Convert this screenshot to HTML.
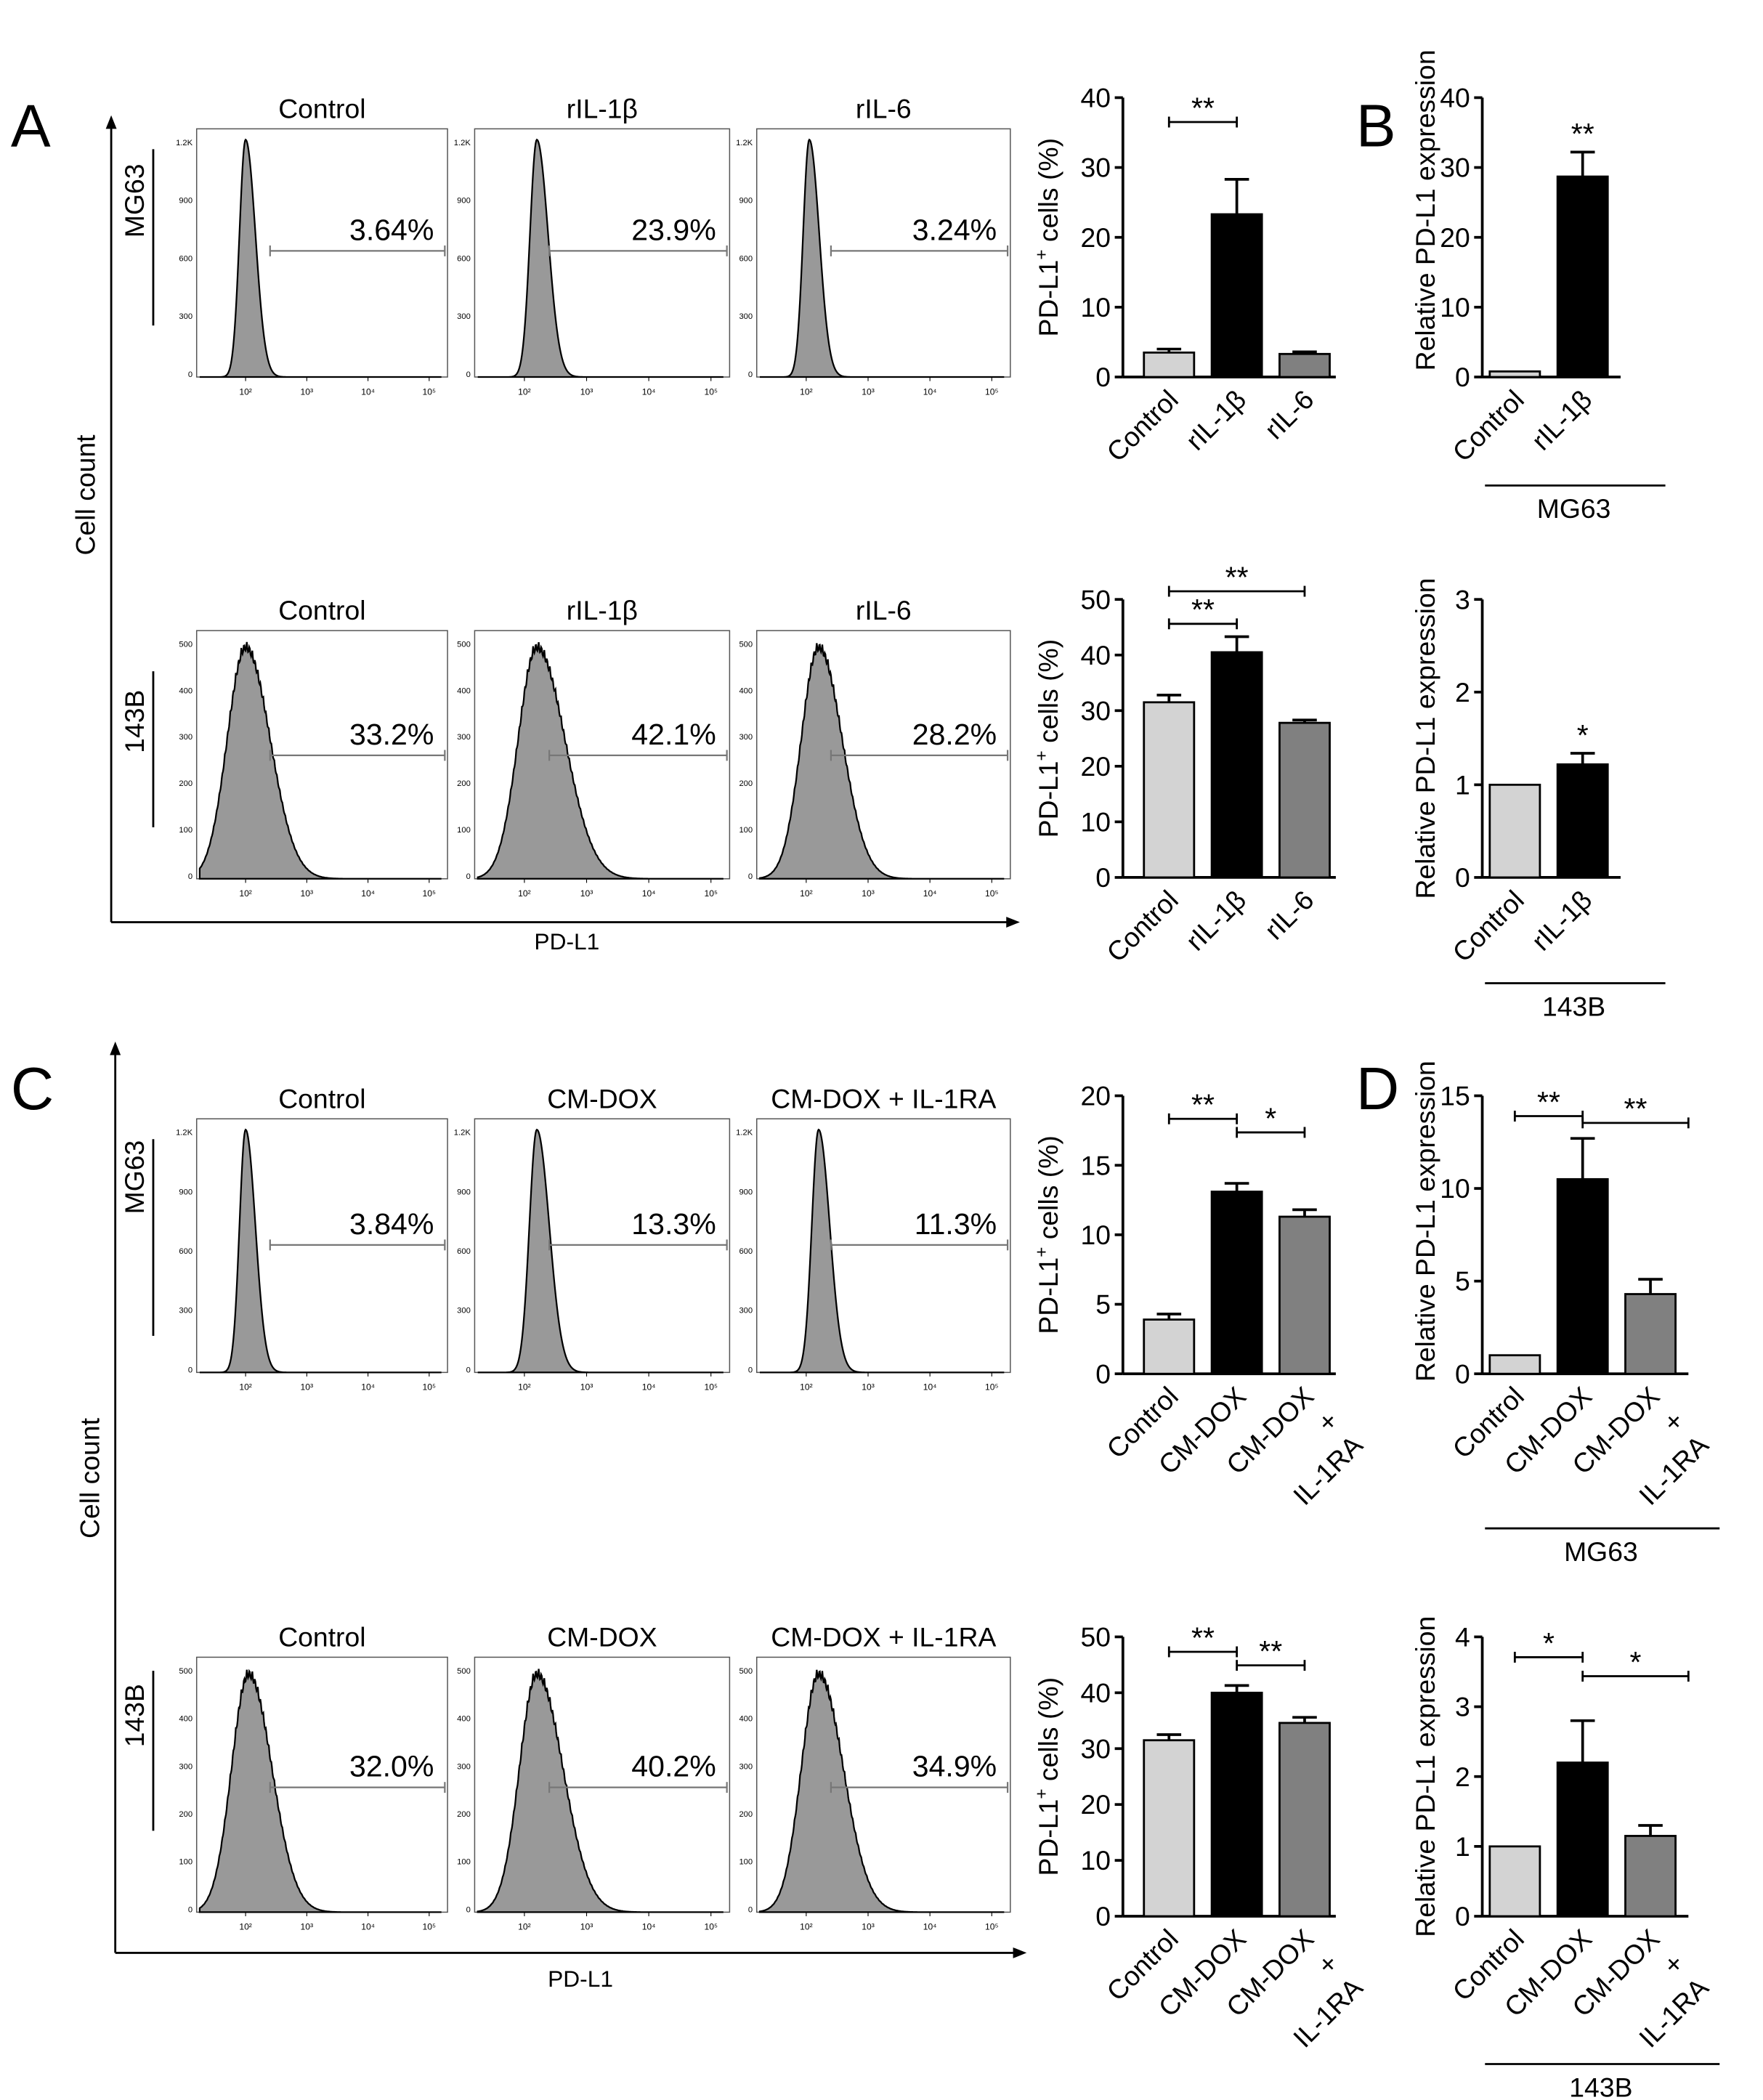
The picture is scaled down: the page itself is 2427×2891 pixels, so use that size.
<!DOCTYPE html>
<html><head><meta charset="utf-8"><style>
html,body{margin:0;padding:0;background:#fff}
svg{display:block;font-family:"Liberation Sans",Arial,sans-serif}
</style></head><body>
<svg id="fig" width="2427" height="2891" viewBox="0 0 1300 1548.5" preserveAspectRatio="none">
<g id="static">
<text x="8" y="108" font-size="44">A</text>
<text x="1000" y="108" font-size="44">B</text>
<text x="8" y="818" font-size="44">C</text>
<text x="1000" y="818" font-size="44">D</text>
</g>
</svg>
<script>
// ---- bar chart data ----
const catsA = ["Control","rIL-1β","rIL-6"];
const catsC = ["Control","CM-DOX","CM-DOX\n+\nIL-1RA"];
const catsB = ["Control","rIL-1β"];
const valsA1 = [3.5, 23.3, 3.3];  const errA1 = [0.5, 5.0, 0.3];
const valsA2 = [31.5, 40.5, 27.8]; const errA2 = [1.3, 2.8, 0.5];
const valsB1 = [0.8, 28.7];        const errB1 = [0, 3.5];
const valsB2 = [1.0, 1.22];        const errB2 = [0, 0.12];
const valsC1 = [3.9, 13.1, 11.3];  const errC1 = [0.4, 0.6, 0.5];
const valsC2 = [31.5, 40.0, 34.6]; const errC2 = [1.0, 1.3, 1.0];
const valsD1 = [1.0, 10.5, 4.3];   const errD1 = [0, 2.2, 0.8];
const valsD2 = [1.0, 2.2, 1.15];   const errD2 = [0, 0.6, 0.15];
const ticksA1 = [0,10,20,30,40], ticksA2=[0,10,20,30,40,50], ticksB1=[0,10,20,30,40], ticksB2=[0,1,2,3];
const ticksC1 = [0,5,10,15,20], ticksC2=[0,10,20,30,40,50], ticksD1=[0,5,10,15], ticksD2=[0,1,2,3,4];
// ---- histogram data ----
const pctRow = [["3.64%","23.9%","3.24%"],["33.2%","42.1%","28.2%"],["3.84%","13.3%","11.3%"],["32.0%","40.2%","34.9%"]];
const peakPos = [[2.0,2.2,2.05],[2.0,2.2,2.2],[2.0,2.2,2.2],[2.05,2.2,2.2]];
const spreadL = [[0.1,0.11,0.1],[0.3,0.3,0.28],[0.1,0.12,0.11],[0.28,0.28,0.28]];
const spreadR = [[0.16,0.18,0.16],[0.4,0.45,0.38],[0.16,0.2,0.18],[0.38,0.42,0.4]];

const NS="http://www.w3.org/2000/svg", svg=document.getElementById('fig');
function el(tag,attrs,parent,text){const e=document.createElementNS(NS,tag);for(const k in attrs)e.setAttribute(k,attrs[k]);if(text!==undefined)e.textContent=text;(parent||svg).appendChild(e);return e;}

function bigAxes(x,yTop,yBot,xEnd,ccY,pdX,pdY){
  const g=el('g',{});
  
  
  el('line',{x1:x,y1:yBot,x2:x,y2:yTop+8,stroke:'#000','stroke-width':1.5},g);
  el('polygon',{points:`${x-4},${yTop+10} ${x+4},${yTop+10} ${x},${yTop}`,fill:'#000'},g);
  el('line',{x1:x,y1:yBot,x2:xEnd-8,y2:yBot,stroke:'#000','stroke-width':1.5},g);
  el('polygon',{points:`${xEnd-10},${yBot-4} ${xEnd-10},${yBot+4} ${xEnd},${yBot}`,fill:'#000'},g);
  const t=el('text',{x:0,y:0,'font-size':20,'text-anchor':'middle',transform:`translate(${x-12},${ccY}) rotate(-90)`},g,'Cell count');
  
  
  const p=el('text',{x:pdX,y:pdY,'font-size':17,'text-anchor':'middle'},g,'PD-L1');
  
  
}
bigAxes(82,85,680,752,365,418,700);
bigAxes(85,768,1440,757,1090,428,1465);

function cellLabel(txt,y,yt,yb){
  el('line',{x1:113,y1:yt,x2:113,y2:yb,stroke:'#000','stroke-width':1.5});
  const t=el('text',{'font-size':20,'text-anchor':'middle',transform:`translate(106,${y}) rotate(-90)`},svg,txt);
  
  
}
cellLabel('MG63',148,110,240); cellLabel('143B',532,495,610);
cellLabel('MG63',868,840,985); cellLabel('143B',1265,1232,1350);

const boxX=[145,350,558], boxW=[185,188,187];
const rowY=[[95,278],[465,648],[825,1012],[1222,1410]];
const titles=[["Control","rIL-1β","rIL-6"],["Control","rIL-1β","rIL-6"],["Control","CM-DOX","CM-DOX + IL-1RA"],["Control","CM-DOX","CM-DOX + IL-1RA"]];
const gateY=[185,557,918,1318];
for(let r=0;r<4;r++){for(let c=0;c<3;c++){
  const x0=boxX[c],w=boxW[c],y0=rowY[r][0],y1=rowY[r][1],h=y1-y0;
  const g=el('g',{});
  
  
  el('rect',{x:x0,y:y0,width:w,height:h,fill:'#fff',stroke:'#555','stroke-width':0.8},g);
  const tt=el('text',{x:x0+w/2,y:y0-8,'font-size':20,'text-anchor':'middle'},g,titles[r][c]);
  
  
  const lx=v=>x0+(v-1.2)/(5.3-1.2)*w;
  for(let d=2;d<=5;d++){const tx=lx(d);
    el('line',{x1:tx,y1:y1,x2:tx,y2:y1+3,stroke:'#000','stroke-width':0.6},g);
    el('text',{x:tx,y:y1+13,'font-size':6.5,'text-anchor':'middle'},g,'10'+'²³⁴⁵'[d-2]);}
  const yl=(r%2===0)?["0","300","600","900","1.2K"]:["0","100","200","300","400","500"];
  yl.forEach((s,i)=>{const ty=y1-i*(h-12)/(yl.length-1)-2;
    el('text',{x:x0-3,y:ty+2,'font-size':6,'text-anchor':'end'},g,s);});
  const pk=peakPos[r][c],sl=spreadL[r][c],sr=spreadR[r][c];
  let d=`M${lx(1.25)},${y1}`;
  for(let v=1.25;v<=5.2;v+=0.01){const s=v<pk?sl:sr;let f=Math.exp(-Math.pow((v-pk)/s,2)/2);
    if(r%2===1) f*=1-0.04*Math.abs(Math.sin(v*70+c));
    d+=` L${lx(v).toFixed(2)},${(y1-f*(h-8)).toFixed(2)}`;}
  d+=` L${lx(5.2)},${y1} Z`;
  el('path',{d:d,fill:'#999',stroke:'#000','stroke-width':1.2},g);
  const gx=lx(2.4), gy=gateY[r];
  el('line',{x1:gx,y1:gy,x2:x0+w-2,y2:gy,stroke:'#777','stroke-width':1.2},g);
  el('line',{x1:gx,y1:gy-4,x2:gx,y2:gy+4,stroke:'#777','stroke-width':1.2},g);
  el('line',{x1:x0+w-2,y1:gy-4,x2:x0+w-2,y2:gy+4,stroke:'#777','stroke-width':1.2},g);
  const pt=el('text',{x:x0+w-10,y:gy-8,'font-size':22,'text-anchor':'end'},g,pctRow[r][c]);
  
  
}}

const fills=['#d3d3d3','#000','#808080'];
function barChart(o){
  const g=el('g',{});
  
  
  const max=o.ticks[o.ticks.length-1];
  const ys=v=>o.yb-(v/max)*(o.yb-o.yt);
  el('line',{x1:o.ax,y1:o.yt,x2:o.ax,y2:o.yb,stroke:'#000','stroke-width':2},g);
  el('line',{x1:o.ax,y1:o.yb,x2:o.xe,y2:o.yb,stroke:'#000','stroke-width':2},g);
  o.ticks.forEach(t=>{el('line',{x1:o.ax-6,y1:ys(t),x2:o.ax,y2:ys(t),stroke:'#000','stroke-width':2},g);
    el('text',{x:o.ax-9,y:ys(t)+7,'font-size':20,'text-anchor':'end'},g,String(t));});
  const yl=el('text',{'font-size':20,'text-anchor':'middle',transform:`translate(${o.ylx},${(o.yt+o.yb)/2+(o.yoff||0)}) rotate(-90)`},g);
  if(o.sup){yl.appendChild(document.createTextNode('PD-L1'));el('tspan',{'font-size':13,dy:-8},yl,'+');el('tspan',{dy:8},yl,' cells (%)');}
  else yl.textContent='Relative PD-L1 expression';
  
  
  o.vals.forEach((v,i)=>{const cx=o.x0+i*50, w=37;
    const b=el('rect',{x:cx-w/2,y:ys(v),width:w,height:o.yb-ys(v),fill:fills[i],stroke:'#000','stroke-width':1.5},g);
    
    
    const e=o.err[i]; if(e>0){const ye=ys(v+e);
      el('line',{x1:cx,y1:ys(v),x2:cx,y2:ye,stroke:'#000','stroke-width':2},g);
      el('line',{x1:cx-9,y1:ye,x2:cx+9,y2:ye,stroke:'#000','stroke-width':2},g);}
    const lines=o.cats[i].split('\n');
    lines.forEach((ln,k)=>{const lt=el('text',{'font-size':20,'text-anchor':'end',transform:`translate(${cx+8+k*18},${o.yb+18+k*18}) rotate(-45)`},g,ln);
      
      });
  });
  (o.sig||[]).forEach(s=>{const xa=o.x0+s[0]*50,xb=s[3]?s[3]:o.x0+s[1]*50;
    el('line',{x1:xa,y1:s[2],x2:xb,y2:s[2],stroke:'#000','stroke-width':1.5},g);
    el('line',{x1:xa,y1:s[2]-4,x2:xa,y2:s[2]+4,stroke:'#000','stroke-width':1.5},g);
    el('line',{x1:xb,y1:s[2]-4,x2:xb,y2:s[2]+4,stroke:'#000','stroke-width':1.5},g);
    el('text',{x:(xa+xb)/2,y:s[2]-3,'font-size':22,'text-anchor':'middle'},g,s[4]);});
  if(o.star){el('text',{x:o.x0+50,y:ys(o.vals[1]+o.err[1])-6,'font-size':22,'text-anchor':'middle'},g,o.star);}
  if(o.cell){el('line',{x1:o.ax+2,y1:o.cell[0],x2:o.cell[1],y2:o.cell[0],stroke:'#000','stroke-width':1.5},g);
    el('text',{x:(o.ax+o.cell[1])/2,y:o.cell[0]+24,'font-size':20,'text-anchor':'middle'},g,o.cell[2]);}
}
barChart({name:'bar-chart-a-mg63',ax:828,xe:985,yt:72,yb:278,x0:862,ticks:ticksA1,vals:valsA1,err:errA1,cats:catsA,ylx:780,sup:1,sig:[[0,1,90,0,'**']]});
barChart({name:'bar-chart-a-143b',ax:828,xe:985,yt:442,yb:647,x0:862,ticks:ticksA2,vals:valsA2,err:errA2,cats:catsA,ylx:780,sup:1,sig:[[0,1,460,0,'**'],[0,2,436,0,'**']]});
barChart({name:'bar-chart-b-mg63',ax:1093,xe:1195,yt:72,yb:278,x0:1117,ticks:ticksB1,vals:valsB1,err:errB1,cats:catsB,ylx:1058,yoff:-20,star:'**',cell:[358,1228,'MG63']});
barChart({name:'bar-chart-b-143b',ax:1093,xe:1195,yt:442,yb:647,x0:1117,ticks:ticksB2,vals:valsB2,err:errB2,cats:catsB,ylx:1058,star:'*',cell:[725,1228,'143B']});
barChart({name:'bar-chart-c-mg63',ax:828,xe:985,yt:808,yb:1013,x0:862,ticks:ticksC1,vals:valsC1,err:errC1,cats:catsC,ylx:780,sup:1,sig:[[0,1,825,0,'**'],[1,2,835,0,'*']]});
barChart({name:'bar-chart-c-143b',ax:828,xe:985,yt:1207,yb:1413,x0:862,ticks:ticksC2,vals:valsC2,err:errC2,cats:catsC,ylx:780,sup:1,sig:[[0,1,1218,0,'**'],[1,2,1228,0,'**']]});
barChart({name:'bar-chart-d-mg63',ax:1093,xe:1245,yt:808,yb:1013,x0:1117,ticks:ticksD1,vals:valsD1,err:errD1,cats:catsC,ylx:1058,yoff:-10,sig:[[0,1,823,0,'**'],[1,2,828,1245,'**']],cell:[1127,1268,'MG63']});
barChart({name:'bar-chart-d-143b',ax:1093,xe:1245,yt:1207,yb:1413,x0:1117,ticks:ticksD2,vals:valsD2,err:errD2,cats:catsC,ylx:1058,sig:[[0,1,1222,0,'*'],[1,2,1236,1245,'*']],cell:[1522,1268,'143B']});
</script>
</body></html>
